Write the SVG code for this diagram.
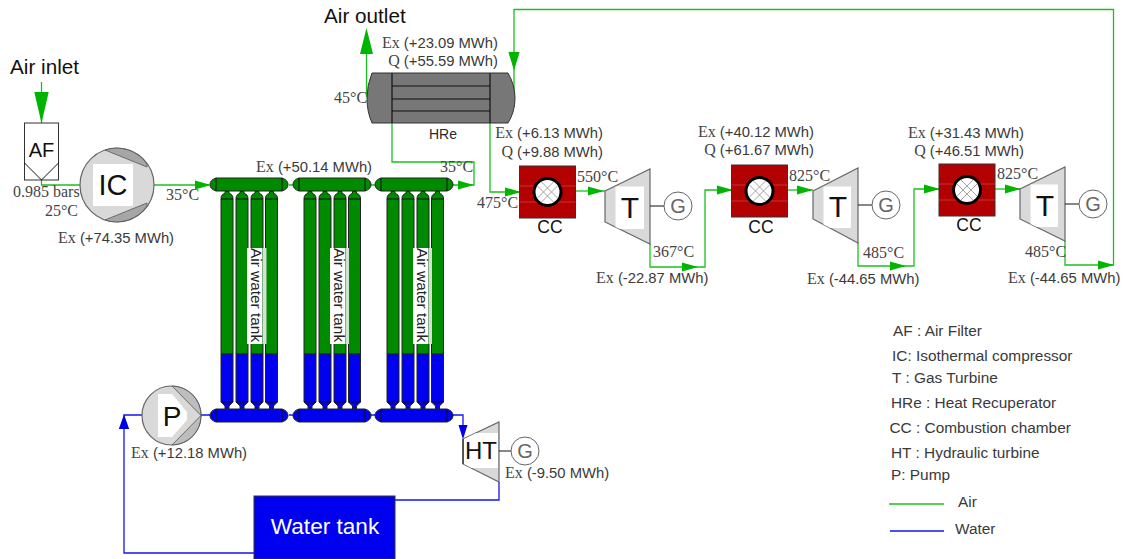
<svg xmlns="http://www.w3.org/2000/svg" xmlns:xlink="http://www.w3.org/1999/xlink" width="1125" height="559" viewBox="0 0 1125 559">
<style>
text{font-family:"Liberation Sans",Arial,sans-serif;fill:#2b2b2b}
.v{font-size:14.8px;fill:#3a3a3a}
.r{font-family:"Liberation Serif","Times New Roman",serif;font-size:16px;fill:#444}
.e{text-anchor:end}
.m{text-anchor:middle}
.big{font-size:20.7px;fill:#111}
.lg{font-size:15.4px;fill:#3a3a3a}
.cc{font-size:17.5px;fill:#111;text-anchor:middle}
.sym{fill:#111;text-anchor:middle}
.g{font-size:20px;fill:#666;text-anchor:middle}
.air{fill:none;stroke:#1cc01c;stroke-width:1.3}
.wat{fill:none;stroke:#1515f0;stroke-width:1.3}
.ah{fill:#00b400}
.bh{fill:#0000e8}
.gn{fill:#008a00}
.bl{fill:#0000f0}
.ol{stroke:#222;stroke-width:1}
.ln{fill:none;stroke:#111;stroke-width:1}
.mach{fill:#d9d9d9;stroke:#666;stroke-width:1.2}
.wh{fill:#fff}
.gen{fill:#fff;stroke:#666;stroke-width:1}
</style>
<defs>
<path id="ar" d="M0,-4.5L16,0L0,4.5Z"/>
<g id="col">
<path class="gn ol" d="M0,199Q0,194 4,193.500V191.500H8V193.500Q12,194 12,199V354H0Z"/>
<path class="bl ol" d="M0,354H12V402L8,406V409H4V406L0,402Z"/>
<path class="ln" d="M0,199H12M0,402H12"/>
</g>
<g id="bank">
<use xlink:href="#col" href="#col" x="0"/>
<use xlink:href="#col" href="#col" x="15"/>
<use xlink:href="#col" href="#col" x="30"/>
<use xlink:href="#col" href="#col" x="44.500"/>
</g>
<g id="hd">
<path class="ol" d="M6,0H72Q78,2 78,6.500Q78,11 72,13H6Q0,11 0,6.500Q0,2 6,0Z"/>
<path class="ln" d="M6,0V13M72,0V13"/>
</g>
<g id="chamber">
<rect x="-28" y="-26" width="56" height="52" fill="#b30000" stroke="#333" stroke-width="1"/>
<path d="M-28,-6H28M-28,10H28" stroke="#d96a6a" stroke-width="1" opacity=".5"/>
<circle r="13.500" fill="#fff" stroke="#000" stroke-width="3"/>
<path d="M-10,-6L6,10M-6,-10L10,6M-10,6L6,-10M-6,10L10,-6" stroke="#999" stroke-width=".9" fill="none"/>
</g>
<g id="gen">
<circle class="gen" r="14"/>
</g>
</defs>

<g id="connectors">
<path class="air" d="M41.500,82V123"/>
<path class="air" d="M41.500,180V185H80"/>
<path class="air" d="M154,185H209"/>
<path class="air" d="M289,185H293M371,185H375"/>
<path class="air" d="M453,185H474V162H392V123"/>
<path class="air" d="M366.500,54V97"/>
<path class="air" d="M490,123V192H519"/>
<path class="air" d="M576,191H605"/>
<path class="air" d="M650,244V267H705V190H732"/>
<path class="air" d="M787,190H813"/>
<path class="air" d="M858,243V266H914V189H939"/>
<path class="air" d="M995,189H1021"/>
<path class="air" d="M1065,241V265H1113.500V9.500H514V95"/>
<path class="wat" d="M201,415H210M289,415H293M371,415H375"/>
<path class="wat" d="M453,415H463V428"/>
<path class="wat" d="M395,500H499V482"/>
<path class="wat" d="M142,415H124V553H254"/>
<use class="ah" href="#ar" transform="translate(41.500,92) rotate(90) scale(1.95,1.6)"/>
<use class="ah" href="#ar" transform="translate(366.500,54) rotate(-90) scale(1.63,1.45)"/>
<use class="ah" href="#ar" transform="translate(514,52) rotate(90) scale(1.15,1.25)"/>
<use class="ah" href="#ar" transform="translate(195,185)"/>
<use class="ah" href="#ar" transform="translate(458,185)"/>
<use class="ah" href="#ar" transform="translate(505,192)"/>
<use class="ah" href="#ar" transform="translate(588,191)"/>
<use class="ah" href="#ar" transform="translate(682,267)"/>
<use class="ah" href="#ar" transform="translate(717,190)"/>
<use class="ah" href="#ar" transform="translate(797,190)"/>
<use class="ah" href="#ar" transform="translate(890,266)"/>
<use class="ah" href="#ar" transform="translate(924,189)"/>
<use class="ah" href="#ar" transform="translate(1005,189)"/>
<use class="ah" href="#ar" transform="translate(1098,265)"/>
<use class="bh" href="#ar" transform="translate(463,425) rotate(90) scale(.9,1)"/>
<use class="bh" href="#ar" transform="translate(124,429) rotate(-90) scale(.9,1.15)"/>
</g>

<g id="air-filter">
<rect x="24.500" y="123" width="34" height="57" fill="#fff" stroke="#333"/>
<path class="ln" d="M24.500,163L41.500,180L58.500,163" stroke="#333"/>
<text x="41.500" y="157" font-size="20" class="sym">AF</text>
</g>

<g id="isothermal-compressor">
<circle class="mach" cx="117" cy="185" r="37"/>
<path d="M105,150A37,37 0 0 1 147,164L147,167Z" fill="#a6a6a6" stroke="#555" stroke-width=".8"/>
<path d="M105,220A37,37 0 0 0 147,206L147,203Z" fill="#a6a6a6" stroke="#555" stroke-width=".8"/>
<rect class="wh" x="93" y="164" width="40" height="42"/>
<text x="113" y="195" font-size="29" class="sym">IC</text>
</g>

<g id="tanks-1">
<use href="#bank" x="221"/>
<rect x="247" y="248" width="15.500" height="96" fill="#fff"/>
<rect x="263" y="248" width="3.500" height="96" fill="#cfe3cf"/>
<text transform="translate(251,248) rotate(90)" class="lg" style="fill:#222">Air water tank</text>
<use class="gn" href="#hd" x="210" y="178"/>
<use class="bl" href="#hd" x="210" y="409"/>
</g>
<g id="tanks-2">
<use href="#bank" x="304"/>
<rect x="330" y="248" width="15.500" height="96" fill="#fff"/>
<rect x="346" y="248" width="3" height="96" fill="#cfe3cf"/>
<text transform="translate(334,248) rotate(90)" class="lg" style="fill:#222">Air water tank</text>
<use class="gn" href="#hd" x="293" y="178"/>
<use class="bl" href="#hd" x="293" y="409"/>
</g>
<g id="tanks-3">
<use href="#bank" x="387"/>
<rect x="413" y="248" width="15.500" height="96" fill="#fff"/>
<rect x="429" y="248" width="3" height="96" fill="#cfe3cf"/>
<text transform="translate(417,248) rotate(90)" class="lg" style="fill:#222">Air water tank</text>
<use class="gn" href="#hd" x="375" y="178"/>
<use class="bl" href="#hd" x="375" y="409"/>
</g>

<g id="heat-recuperator">
<path d="M372,73H508Q515,85 515,98Q515,112 508,123H372Q367,112 367,98Q367,85 372,73Z" fill="#777" stroke="#333"/>
<path class="ln" d="M392,73V123M490,73V123M392,86H490M392,99H490M392,111H490" style="stroke-width:1.200"/>
<text x="443" y="139" font-size="14" class="m">HRe</text>
</g>

<g id="cc-1"><use href="#chamber" transform="translate(547.500,192)"/><text x="550" y="233" class="cc">CC</text></g>
<g id="cc-2"><use href="#chamber" transform="translate(759.500,191)"/><text x="761" y="233" class="cc">CC</text></g>
<g id="cc-3"><use href="#chamber" transform="translate(967,190)"/><text x="969" y="231" class="cc">CC</text></g>

<g id="turbine-1">
<path class="mach" d="M605,191L650,169V244L605,222Z"/>
<path class="wh" d="M615.500,186.500H644V229H620L615.500,227Z"/>
<text x="630" y="218" font-size="30" class="sym">T</text>
<path class="ln" d="M650,206H664"/>
<use href="#gen" x="678" y="206"/><text x="678" y="213" class="g">G</text>
</g>
<g id="turbine-2">
<path class="mach" d="M813,191L858,168V243L813,219Z"/>
<path class="wh" d="M823.500,186.500H851V228H830.500L823.500,224.500Z"/>
<text x="838" y="217" font-size="30" class="sym">T</text>
<path class="ln" d="M858,205H872"/>
<use href="#gen" x="886" y="205"/><text x="886" y="212" class="g">G</text>
</g>
<g id="turbine-3">
<path class="mach" d="M1020,189L1065,167V241L1020,219Z"/>
<path class="wh" d="M1030.500,184.500H1058V227H1037L1030.500,224Z"/>
<text x="1045" y="216" font-size="30" class="sym">T</text>
<path class="ln" d="M1065,204H1079"/>
<use href="#gen" x="1093" y="204"/><text x="1093" y="211" class="g">G</text>
</g>

<g id="pump">
<circle class="mach" cx="171.500" cy="415.500" r="29.500"/>
<path d="M172,386A29.500,29.500 0 0 1 201,415.500L172,445A29.500,29.500 0 0 0 201,415.500Z" fill="#bdbdbd" stroke="#555" stroke-width=".8"/>
<path d="M158,394H172L187,412V420L172,437H158Z" class="wh"/>
<text x="172" y="426" font-size="28" class="sym">P</text>
</g>

<g id="hydraulic-turbine">
<path class="mach" d="M463,439L499,422V482L463,464Z"/>
<path class="wh" d="M464,439L476,433H498V468H471.500L464,464Z"/>
<path d="M463,439V464" stroke="#111"/>
<text x="481" y="459" font-size="24" class="sym">HT</text>
<path class="ln" d="M499,451H511"/>
<use href="#gen" x="525" y="451"/><text x="525" y="458" class="g">G</text>
</g>

<g id="water-tank">
<rect x="254" y="496" width="141" height="63" fill="#0000f0" stroke="#333"/>
<text x="325" y="534" font-size="22.600" class="m" style="fill:#fff">Water tank</text>
</g>

<g id="labels">
<text x="10" y="74" class="big">Air inlet</text>
<text x="324" y="23" class="big">Air outlet</text>
<text x="58" y="243" class="v"><tspan class="r">Ex</tspan> (+74.35 MWh)</text>
<text x="13" y="197" class="r">0.985 bars</text>
<text x="78" y="216" class="r e">25°C</text>
<text x="166" y="200" class="r">35°C</text>
<text x="256" y="172" class="v"><tspan class="r">Ex</tspan> (+50.14 MWh)</text>
<text x="440" y="172" class="r">35°C</text>
<text x="498" y="48" class="v e"><tspan class="r">Ex</tspan> (+23.09 MWh)</text>
<text x="498" y="66" class="v e"><tspan class="r">Q</tspan> (+55.59 MWh)</text>
<text x="334" y="103" class="r">45°C</text>
<text x="603" y="138" class="v e"><tspan class="r">Ex</tspan> (+6.13 MWh)</text>
<text x="603" y="157" class="v e"><tspan class="r">Q</tspan> (+9.88 MWh)</text>
<text x="477" y="208" class="r">475°C</text>
<text x="577" y="182" class="r">550°C</text>
<text x="653" y="257" class="r">367°C</text>
<text x="596" y="283" class="v"><tspan class="r">Ex</tspan> (-22.87 MWh)</text>
<text x="814" y="137" class="v e"><tspan class="r">Ex</tspan> (+40.12 MWh)</text>
<text x="814" y="155" class="v e"><tspan class="r">Q</tspan> (+61.67 MWh)</text>
<text x="789" y="181" class="r">825°C</text>
<text x="863" y="258" class="r">485°C</text>
<text x="807" y="284" class="v"><tspan class="r">Ex</tspan> (-44.65 MWh)</text>
<text x="1024" y="138" class="v e"><tspan class="r">Ex</tspan> (+31.43 MWh)</text>
<text x="1024" y="156" class="v e"><tspan class="r">Q</tspan> (+46.51 MWh)</text>
<text x="997" y="179" class="r">825°C</text>
<text x="1025" y="257" class="r">485°C</text>
<text x="1008" y="283" class="v"><tspan class="r">Ex</tspan> (-44.65 MWh)</text>
<text x="505" y="478" class="v"><tspan class="r">Ex</tspan> (-9.50 MWh)</text>
<text x="131" y="458" class="v"><tspan class="r">Ex</tspan> (+12.18 MWh)</text>
</g>

<g id="legend">
<text x="893" y="336" class="lg">AF : Air Filter</text>
<text x="892" y="361" class="lg">IC: Isothermal compressor</text>
<text x="892" y="383" class="lg">T : Gas Turbine</text>
<text x="891" y="408" class="lg">HRe : Heat Recuperator</text>
<text x="889.500" y="433" class="lg">CC : Combustion chamber</text>
<text x="891" y="458" class="lg">HT : Hydraulic turbine</text>
<text x="891" y="480" class="lg">P: Pump</text>
<path class="air" d="M889,504H944"/>
<text x="958" y="507" class="lg">Air</text>
<path class="wat" d="M890,531H944"/>
<text x="955" y="534" class="lg">Water</text>
</g>
</svg>
